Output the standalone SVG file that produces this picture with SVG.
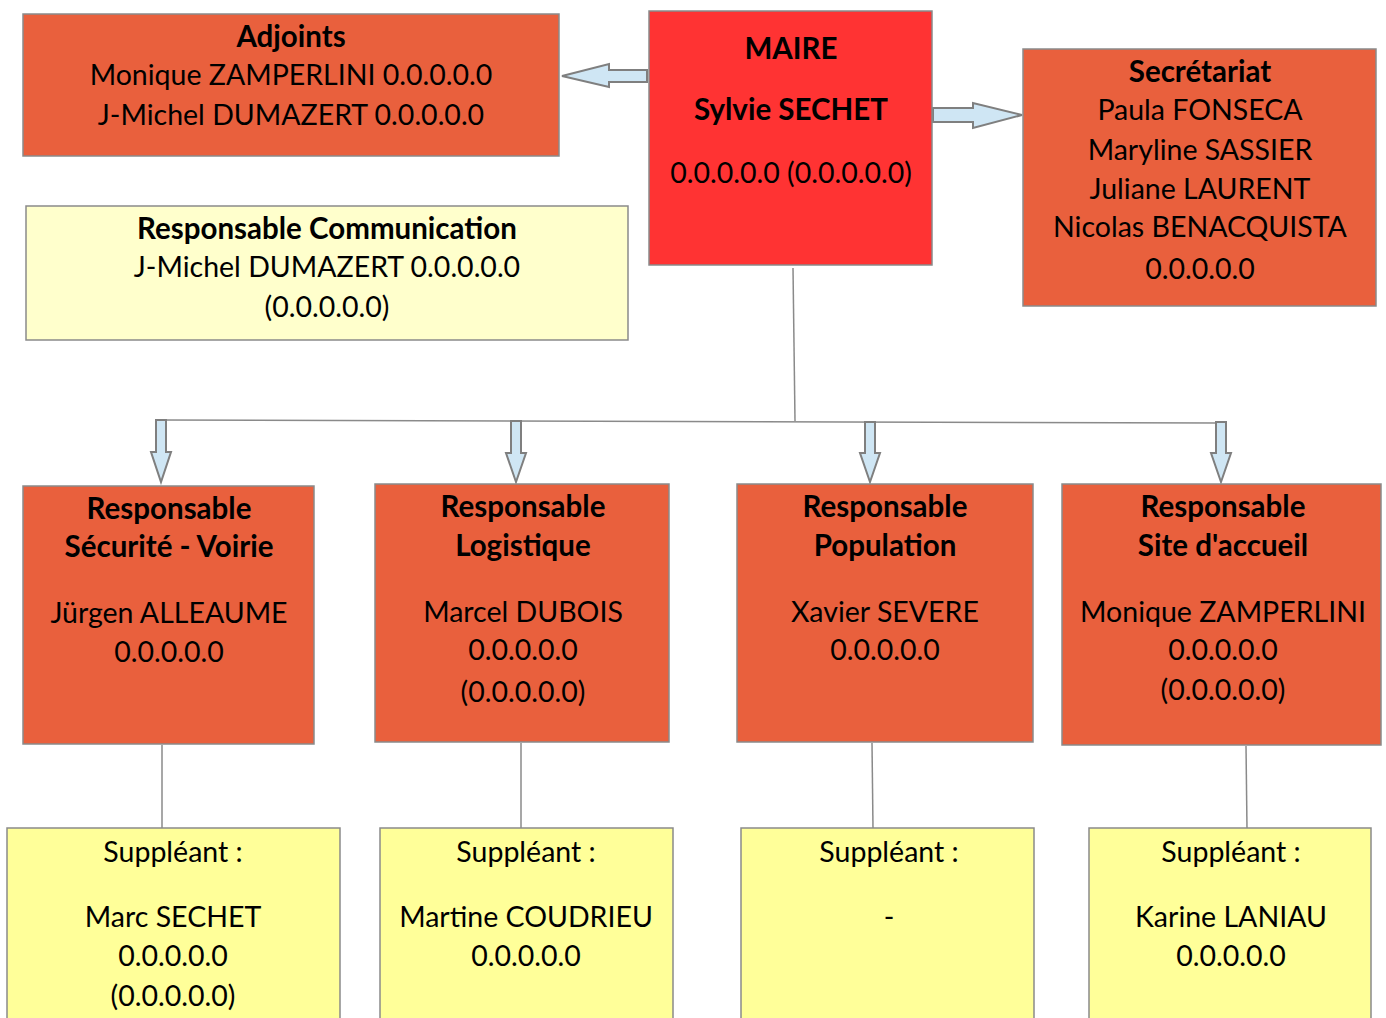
<svg xmlns="http://www.w3.org/2000/svg" width="1386" height="1018" viewBox="0 0 1386 1018">
  <style>
    .box { stroke: #8a8a8a; stroke-width: 1.5; }
    .orange { fill: #E9603D; }
    .red { fill: #FF3333; }
    .pale { fill: #FFFFCC; }
    .yellow { fill: #FFFF99; }
    .line { stroke: #8a8a8a; stroke-width: 1.5; fill: none; }
    .arrow { fill: #CFE6F4; stroke: #7f7f7f; stroke-width: 2; stroke-linejoin: miter; }
    text { font-family: Lato, "Open Sans", "Liberation Sans", sans-serif; font-size: 28.5px; fill: #000; text-anchor: middle; }
    .b { font-weight: bold; font-size: 29.5px; }
  </style>

  <!-- connectors -->
  <g id="connectors">
    <path class="line" d="M793 268 L795 421"/>
    <path class="line" d="M160 420 L1221 423"/>
    <path class="arrow" d="M647 70 L609 70 L609 64 L562 76 L609 87 L609 82 L647 82 Z"/>
    <path class="arrow" d="M933 108 L973 108 L973 103 L1022 115 L973 128 L973 122 L933 122 Z"/>
    <path class="arrow" d="M156 420 L166 420 L166 452 L171 452 L161 482 L151 452 L156 452 Z"/>
    <path class="arrow" d="M511 421 L521 421 L521 453 L526 453 L516 482 L506 453 L511 453 Z"/>
    <path class="arrow" d="M865 422 L875 422 L875 453 L880 453 L870 482 L860 453 L865 453 Z"/>
    <path class="arrow" d="M1216 422 L1226 422 L1226 453 L1231 453 L1221 482 L1211 453 L1216 453 Z"/>
    <path class="line" d="M162 745 L162 828"/>
    <path class="line" d="M521 743 L521 828"/>
    <path class="line" d="M872 743 L873 828"/>
    <path class="line" d="M1246 746 L1247 828"/>
  </g>

  <g id="adjoints">
    <rect class="box orange" x="23" y="14" width="536" height="142"/>
    <text class="b" x="291" y="47">Adjoints</text>
    <text x="291" y="85">Monique ZAMPERLINI 0.0.0.0.0</text>
    <text x="291" y="125">J-Michel DUMAZERT 0.0.0.0.0</text>
  </g>

  <g id="maire">
    <rect class="box red" x="649" y="11" width="283" height="254"/>
    <text class="b" x="791" y="59">MAIRE</text>
    <text class="b" x="791" y="120">Sylvie SECHET</text>
    <text x="791" y="183">0.0.0.0.0 (0.0.0.0.0)</text>
  </g>

  <g id="secretariat">
    <rect class="box orange" x="1023" y="49" width="353" height="257"/>
    <text class="b" x="1200" y="82">Secrétariat</text>
    <text x="1200" y="120">Paula FONSECA</text>
    <text x="1200" y="160">Maryline SASSIER</text>
    <text x="1200" y="199">Juliane LAURENT</text>
    <text x="1200" y="237">Nicolas BENACQUISTA</text>
    <text x="1200" y="279">0.0.0.0.0</text>
  </g>

  <g id="communication">
    <rect class="box pale" x="26" y="206" width="602" height="134"/>
    <text class="b" x="327" y="239">Responsable Communication</text>
    <text x="327" y="277">J-Michel DUMAZERT 0.0.0.0.0</text>
    <text x="327" y="317">(0.0.0.0.0)</text>
  </g>

  <g id="securite">
    <rect class="box orange" x="23" y="486" width="291" height="258"/>
    <text class="b" x="169" y="519">Responsable</text>
    <text class="b" x="169" y="557">Sécurité - Voirie</text>
    <text x="169" y="623">Jürgen ALLEAUME</text>
    <text x="169" y="662">0.0.0.0.0</text>
  </g>

  <g id="logistique">
    <rect class="box orange" x="375" y="484" width="294" height="258"/>
    <text class="b" x="523" y="517">Responsable</text>
    <text class="b" x="523" y="556">Logistique</text>
    <text x="523" y="622">Marcel DUBOIS</text>
    <text x="523" y="660">0.0.0.0.0</text>
    <text x="523" y="702">(0.0.0.0.0)</text>
  </g>

  <g id="population">
    <rect class="box orange" x="737" y="484" width="296" height="258"/>
    <text class="b" x="885" y="517">Responsable</text>
    <text class="b" x="885" y="556">Population</text>
    <text x="885" y="622">Xavier SEVERE</text>
    <text x="885" y="660">0.0.0.0.0</text>
  </g>

  <g id="accueil">
    <rect class="box orange" x="1062" y="484" width="319" height="261"/>
    <text class="b" x="1223" y="517">Responsable</text>
    <text class="b" x="1223" y="556">Site d'accueil</text>
    <text x="1223" y="622">Monique ZAMPERLINI</text>
    <text x="1223" y="660">0.0.0.0.0</text>
    <text x="1223" y="700">(0.0.0.0.0)</text>
  </g>

  <g id="suppleant-securite">
    <rect class="box yellow" x="7" y="828" width="333" height="200"/>
    <text x="173" y="862">Suppléant :</text>
    <text x="173" y="927">Marc SECHET</text>
    <text x="173" y="966">0.0.0.0.0</text>
    <text x="173" y="1006">(0.0.0.0.0)</text>
  </g>

  <g id="suppleant-logistique">
    <rect class="box yellow" x="380" y="828" width="293" height="200"/>
    <text x="526" y="862">Suppléant :</text>
    <text x="526" y="927">Martine COUDRIEU</text>
    <text x="526" y="966">0.0.0.0.0</text>
  </g>

  <g id="suppleant-population">
    <rect class="box yellow" x="741" y="828" width="293" height="200"/>
    <text x="889" y="862">Suppléant :</text>
    <text x="889" y="927">-</text>
  </g>

  <g id="suppleant-accueil">
    <rect class="box yellow" x="1089" y="828" width="282" height="200"/>
    <text x="1231" y="862">Suppléant :</text>
    <text x="1231" y="927">Karine LANIAU</text>
    <text x="1231" y="966">0.0.0.0.0</text>
  </g>
</svg>
